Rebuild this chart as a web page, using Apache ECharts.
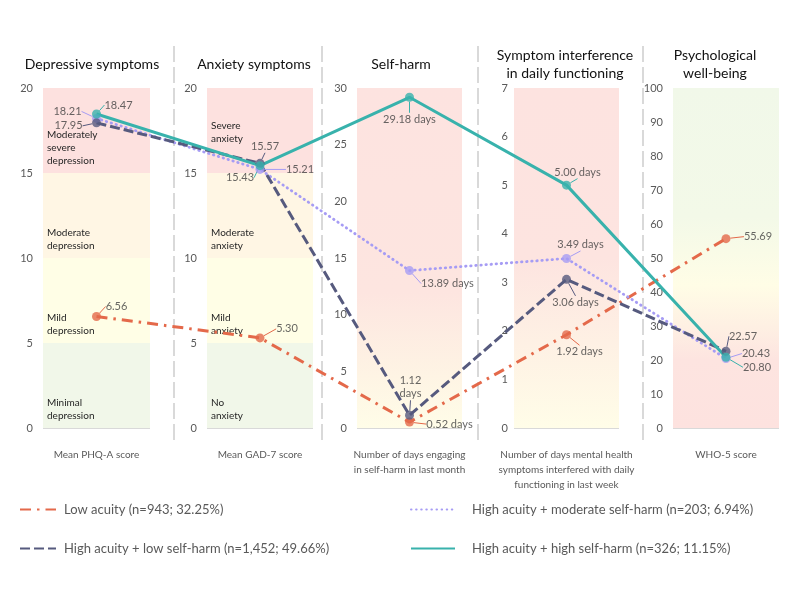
<!DOCTYPE html>
<html><head><meta charset="utf-8">
<script src="https://cdn.jsdelivr.net/npm/echarts@6/dist/echarts.min.js"></script>
<style>html,body{margin:0;padding:0;background:#fff}#c{width:800px;height:600px}</style>
</head><body><div id="c"></div>
<script>
// ---------- data ----------
const panelTitles = ['Depressive symptoms', 'Anxiety symptoms', 'Self-harm', 'Symptom interference\nin daily functioning', 'Psychological\nwell-being'];
const measureLabels = ['Mean PHQ-A score', 'Mean GAD-7 score', 'Number of days engaging\nin self-harm in last month', 'Number of days mental health\nsymptoms interfered with daily\nfunctioning in last week', 'WHO-5 score'];
const axisMax = [20, 20, 30, 7, 100];
const axisInterval = [5, 5, 5, 1, 10];
const groupNames = ['Low acuity (n=943; 32.25%)', 'High acuity + moderate self-harm (n=203; 6.94%)', 'High acuity + low self-harm (n=1,452; 49.66%)', 'High acuity + high self-harm (n=326; 11.15%)'];
const lowAcuity  = [6.56, 5.30, 0.52, 1.92, 55.69];
const highModSH  = [18.21, 15.21, 13.89, 3.49, 20.43];
const highLowSH  = [17.95, 15.57, 1.12, 3.06, 22.57];
const highHighSH = [18.47, 15.43, 29.18, 5.00, 20.80];
const unitSuffix = ['', '', ' days', ' days', ''];
const depressionBands = [[0, 5, 'Minimal\ndepression'], [5, 10, 'Mild\ndepression'], [10, 15, 'Moderate\ndepression'], [15, 20, 'Moderately\nsevere\ndepression']];
const anxietyBands = [[0, 5, 'No\nanxiety'], [5, 10, 'Mild\nanxiety'], [10, 15, 'Moderate\nanxiety'], [15, 20, 'Severe\nanxiety']];

// ---------- style / layout ----------
const FONT = 'Lato, "Liberation Sans", sans-serif';
const groups = [lowAcuity, highModSH, highLowSH, highHighSH];
const colors = ['#E4694A', '#A69CF4', '#565A7E', '#38B2AC'];
const lineTypes = [[11, 6, 2.5, 6], [0.5, 4.6], [10, 4], 'solid'];
const lineCaps = ['butt', 'round', 'butt', 'butt'];
const lineWidths = [3, 2.8, 3, 3];
const bandColors = ['#F1F7E9', '#FFFEE6', '#FFF6E4', '#FDE1DF'];
// label centre offsets from the point (px)
const labelOffsets = [
  [[20, -10], [27, -9], [40, 2], [13, 17], [32, -2]],
  [[-29, -7], [40, 0], [38, 13], [14, -14], [30, -5]],
  [[-28, 3], [5, -17], [1, -28], [9, 23], [17, -15]],
  [[22, -9], [-20, 12], [0, 22], [11, -13], [31, 10]]
];
const gridLefts = [43, 207, 357, 514, 673];
const gridWidths = [107, 106, 105, 105, 106];
const titleX = [92, 254, 401, 565, 715];
const sepX = [174, 322, 478, 643];

const gradients = [
  null, null,
  [[0, '#FDE3E0'], [0.6, '#FDE5E0'], [0.85, '#FEF4E4'], [1, '#FFFDE8']],
  [[0, '#FDE3E0'], [0.5, '#FDE4E0'], [1, '#FFFDE8']],
  [[0, '#F1F8E9'], [0.38, '#F3F9E8'], [0.58, '#FFFDE6'], [0.7, '#FEF0E3'], [0.8, '#FDE4E0'], [1, '#FDE2DF']]
];

const chart = echarts.init(document.getElementById('c'));

const grids = gridLefts.map((l, i) => ({ left: l, width: gridWidths[i], top: 88, height: 340 }));
grids.push({ left: 0, top: 0, width: 800, height: 600 });

const xAxes = measureLabels.map((m, i) => ({
  type: 'category', gridIndex: i, data: [m],
  axisLine: { show: false }, axisTick: { show: false },
  axisLabel: { margin: 19, fontSize: 10, lineHeight: 15, color: '#595959', fontFamily: FONT, interval: 0 }
}));
xAxes.push({ type: 'value', gridIndex: 5, min: 0, max: 800, show: false });

const yAxes = axisMax.map((mx, i) => ({
  type: 'value', gridIndex: i, min: 0, max: mx, interval: axisInterval[i],
  axisLine: { show: false }, axisTick: { show: false },
  axisLabel: { margin: i === 3 ? 6 : 10, fontSize: 11, color: '#595959', fontFamily: FONT },
  splitLine: { lineStyle: { color: '#D9D9D9', width: 1 } }
}));
yAxes.push({ type: 'value', gridIndex: 5, min: 0, max: 600, inverse: true, show: false });

const series = [];
// background bands
function bandData(bands, specialOffset) {
  return bands.map(([a, b, t], k) => [{
    yAxis: a,
    itemStyle: { color: bandColors[k] },
    label: { show: true, formatter: t, position: 'insideBottomLeft', distance: 4,
      offset: (specialOffset && k === 3) ? [0, -24] : [0, -2],
      color: '#262626', fontSize: 10, lineHeight: 13, fontFamily: FONT }
  }, { yAxis: b }]);
}
for (let i = 0; i < 5; i++) {
  let data;
  if (i === 0) data = bandData(depressionBands, false);
  else if (i === 1) data = bandData(anxietyBands, true);
  else data = [[{
    yAxis: 0,
    itemStyle: { color: { type: 'linear', x: 0, y: 0, x2: 0, y2: 1,
      colorStops: gradients[i].map(([o, c]) => ({ offset: o, color: c })) } }
  }, { yAxis: axisMax[i] }]];
  series.push({
    type: 'line', xAxisIndex: i, yAxisIndex: i, z: -1, silent: true,
    data: [[0, 0]], symbol: 'none', lineStyle: { opacity: 0 },
    markArea: { silent: true, data }
  });
}
// connecting lines (overlay, filled after layout)
groups.forEach((g, gi) => series.push({
  id: 'line' + gi, type: 'line', name: groupNames[gi], xAxisIndex: 5, yAxisIndex: 5, z: 3,
  symbol: 'none', silent: true, data: [],
  lineStyle: { color: colors[gi], width: lineWidths[gi], type: lineTypes[gi], cap: lineCaps[gi] },
  itemStyle: { color: colors[gi] }
}));
// points with labels
groups.forEach((g, gi) => g.forEach((v, pi) => {
  let txt = v.toFixed(2) + unitSuffix[pi];
  if (gi === 2 && pi === 2) txt = v.toFixed(2) + '\ndays';
  series.push({
    type: 'scatter', xAxisIndex: pi, yAxisIndex: pi, z: 5, silent: true,
    symbolSize: 9, itemStyle: { color: colors[gi] },
    data: [[0, v]],
    label: { show: true, position: 'inside', formatter: txt, color: '#404040', fontSize: 11, lineHeight: 13, fontFamily: FONT },
    labelLayout: { dx: labelOffsets[gi][pi][0], dy: labelOffsets[gi][pi][1] },
    labelLine: { show: true, lineStyle: { color: colors[gi], width: 1 } }
  });
}));

const legendPos = [[14, 498, 36, 3], [405, 498, 44, 12], [14, 537, 36, 3], [405, 537, 44, 12]];
const legends = groupNames.map((n, i) => ({
  data: [n], left: legendPos[i][0], top: legendPos[i][1], itemWidth: legendPos[i][2], itemHeight: 14,
  selectedMode: false,
  itemStyle: { opacity: 0 },
  textStyle: { fontSize: 13, color: '#595959', fontFamily: FONT, padding: [0, 0, 0, legendPos[i][3]] }
}));

const graphic = [];
sepX.forEach(x => graphic.push({ type: 'line', silent: true, shape: { x1: x, y1: 46, x2: x, y2: 440 },
  style: { stroke: '#D9D9D9', lineWidth: 2, lineDash: [16, 5] } }));
panelTitles.forEach((t, i) => graphic.push({ type: 'text', silent: true, x: titleX[i], y: 64,
  style: { text: t, fill: '#111', fontSize: 14, fontFamily: FONT, lineHeight: 18, textAlign: 'center', textVerticalAlign: 'middle' } }));

chart.setOption({
  animation: false,
  grid: grids, xAxis: xAxes, yAxis: yAxes,
  legend: legends,
  graphic,
  series
});

chart.setOption({
  series: groups.map((g, gi) => ({
    id: 'line' + gi,
    data: g.map((v, pi) => chart.convertToPixel({ xAxisIndex: pi, yAxisIndex: pi }, [0, v]))
  }))
});
</script></body></html>
